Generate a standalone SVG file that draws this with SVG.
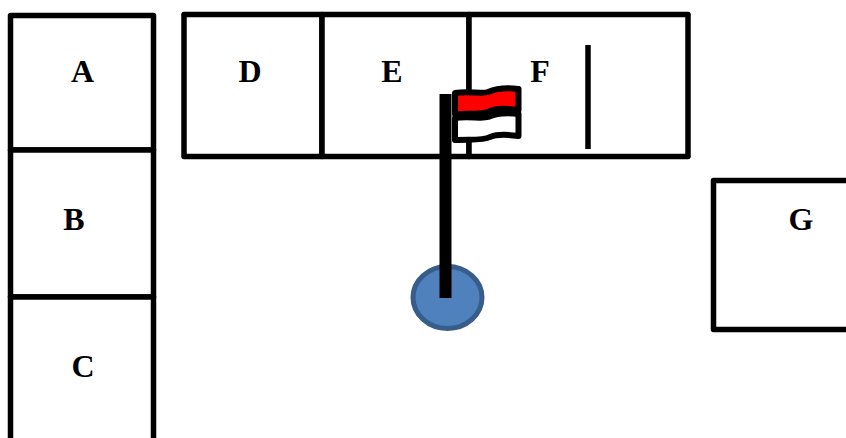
<svg xmlns="http://www.w3.org/2000/svg" width="846" height="438" viewBox="0 0 846 438">
<style>
.box{fill:#fff;stroke:#000;stroke-width:5.500;stroke-linejoin:round}
.div{fill:none;stroke:#000;stroke-width:5.500}
.lbl{font-family:"Liberation Serif","Times New Roman",serif;font-weight:bold;font-size:32px;fill:#000;text-anchor:middle}
.flag{stroke:#000;stroke-width:6;stroke-linejoin:round}
</style>
<rect width="846" height="438" fill="#fff"/>
<g id="node-A"><rect class="box" x="10.500" y="15.500" width="143" height="134.500"/><text class="lbl" x="82.500" y="82">A</text></g>
<g id="node-B"><rect class="box" x="10.500" y="150" width="143" height="147"/><text class="lbl" x="74" y="230">B</text></g>
<g id="node-C"><rect class="box" x="10.500" y="297" width="143" height="160"/><text class="lbl" x="83" y="377">C</text></g>
<g id="node-D"><rect class="box" x="184" y="14.500" width="138" height="142"/><text class="lbl" x="250" y="82">D</text></g>
<g id="node-E"><rect class="box" x="322" y="14.500" width="147" height="142"/><text class="lbl" x="392" y="82">E</text></g>
<g id="node-F"><rect class="box" x="469" y="14.500" width="219" height="142"/><text class="lbl" x="540" y="82">F</text></g>
<g id="node-G"><rect class="box" x="713.500" y="180.500" width="150" height="149"/><text class="lbl" x="801" y="230">G</text></g>
<g id="connectors">
<line class="div" x1="588" y1="45" x2="588" y2="149"/>
</g>
<g id="node-marker">
<ellipse cx="447.500" cy="297.500" rx="34.500" ry="31" fill="#4f81bd" stroke="#385d8a" stroke-width="5"/>
<rect x="439.500" y="94" width="12" height="204" fill="#000"/>
<path class="flag" fill="#f00" d="M455 93C468 91 482 94 488 92C495 89 503 87 518.500 89V110C505 108 497 108 490 111C483 115 468 113 455 114.500Z"/>
<path class="flag" fill="#fff" d="M455 118C468 116 482 119 488 117C495 114 503 112 518.500 114V136C505 134 497 134 490 137C483 141 468 139 455 140Z"/>
</g>
</svg>
